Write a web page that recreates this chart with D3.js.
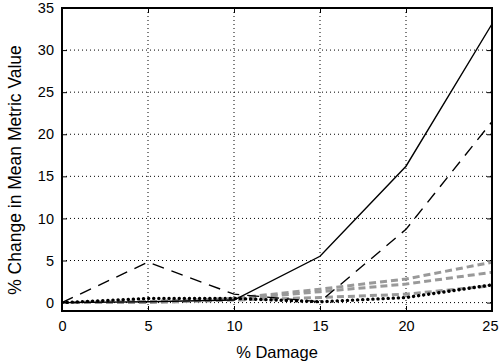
<!DOCTYPE html>
<html><head><meta charset="utf-8">
<script src="https://cdn.jsdelivr.net/npm/d3@7"></script>
<style>body{margin:0;background:#fff}svg{display:block}text{font-family:"Liberation Sans",Arial,sans-serif}</style>
</head><body>
<script>
const damage = [0, 5, 10, 15, 20, 25];
const solidBlack = [0, 0.1, 0.3, 5.5, 16.2, 33.1];
const dashedBlack = [0, 4.8, 1.0, 0.1, 8.7, 21.5];
const gray1 = [0, 0.1, 0.5, 1.6, 2.8, 4.8];
const gray2 = [0, 0.1, 0.4, 1.3, 2.2, 3.6];
const gray3 = [0, 0.0, 0.3, 0.6, 1.0, 2.0];
const dottedBlack = [0, 0.5, 0.5, 0.1, 0.6, 2.1];
const xTicks = [0, 5, 10, 15, 20, 25];
const yTicks = [0, 5, 10, 15, 20, 25, 30, 35];

const W = 499, H = 364;
const L = 62, R = 492, T = 8, B = 311;
const svg = d3.select("body").append("svg").attr("width", W).attr("height", H);
const x = d3.scaleLinear().domain([0, 25]).range([L, R]);
const y = d3.scaleLinear().domain([-1, 35]).range([B, T]);

// grid
const g = svg.append("g");
g.selectAll(".vg").data(xTicks.slice(1, -1)).enter().append("line")
  .attr("x1", d => x(d)).attr("x2", d => x(d)).attr("y1", T).attr("y2", B)
  .attr("stroke", "#000").attr("stroke-width", 1).attr("stroke-dasharray", "1,3");
g.selectAll(".hg").data(yTicks.filter(d => d > -1 && d < 35)).enter().append("line")
  .attr("y1", d => y(d)).attr("y2", d => y(d)).attr("x1", L).attr("x2", R)
  .attr("stroke", "#000").attr("stroke-width", 1).attr("stroke-dasharray", "1,3");

// axes
const fs = 14.5, lfs = 16.5, ylfs = 17.5;
svg.append("g").attr("transform", `translate(0,${B})`)
  .call(d3.axisBottom(x).tickValues(xTicks).tickSize(-5).tickPadding(10));
svg.append("g").attr("transform", `translate(${L},0)`)
  .call(d3.axisLeft(y).tickValues(yTicks).tickSize(-5).tickPadding(8));
svg.append("g").attr("transform", `translate(0,${T})`)
  .call(d3.axisTop(x).tickValues(xTicks).tickSize(-5).tickFormat(""));
svg.append("g").attr("transform", `translate(${R},0)`)
  .call(d3.axisRight(y).tickValues(yTicks).tickSize(-5).tickFormat(""));
svg.selectAll(".domain").remove();
svg.selectAll(".tick line").attr("stroke", "#000").attr("stroke-width", 1);
svg.selectAll(".tick text").attr("font-size", fs).attr("fill", "#000")
  .style("font-family", '"Liberation Sans", Arial, sans-serif');
// keep the last x label inside the window
svg.selectAll(".tick text").filter(function(d) { return d === 25 && this.getAttribute("dy") === "0.71em"; })
  .attr("text-anchor", "end").attr("x", 6);

// series
const line = vals => d3.line().x((d, i) => x(damage[i])).y(d => y(d))(vals);
const series = [
  {v: gray1, c: "#999", w: 3, da: "7,4"},
  {v: gray2, c: "#999", w: 3, da: "7,4"},
  {v: gray3, c: "#999", w: 3, da: "7,4"},
  {v: dottedBlack, c: "#000", w: 3.4, da: "0.1,5", cap: "round"},
  {v: dashedBlack, c: "#000", w: 1.4, da: "12,8"},
  {v: solidBlack, c: "#000", w: 1.4, da: null}
];
svg.append("clipPath").attr("id", "c").append("rect")
  .attr("x", L).attr("y", T).attr("width", R - L).attr("height", B - T);
series.forEach(s => {
  svg.append("path").attr("d", line(s.v)).attr("fill", "none")
    .attr("stroke", s.c).attr("stroke-width", s.w)
    .attr("stroke-dasharray", s.da)
    .attr("stroke-linecap", s.cap || "butt")
    .attr("clip-path", "url(#c)");
});

// frame
svg.append("rect").attr("x", L).attr("y", T).attr("width", R - L).attr("height", B - T)
  .attr("fill", "none").attr("stroke", "#000").attr("stroke-width", 2);

// labels
svg.append("text").attr("x", (L + R) / 2).attr("y", 358).attr("text-anchor", "middle")
  .attr("font-size", lfs).text("% Damage");
svg.append("text").attr("transform", `translate(21,170) rotate(-90)`)
  .attr("text-anchor", "middle").attr("font-size", ylfs).text("% Change in Mean Metric Value");
</script>
</body></html>
